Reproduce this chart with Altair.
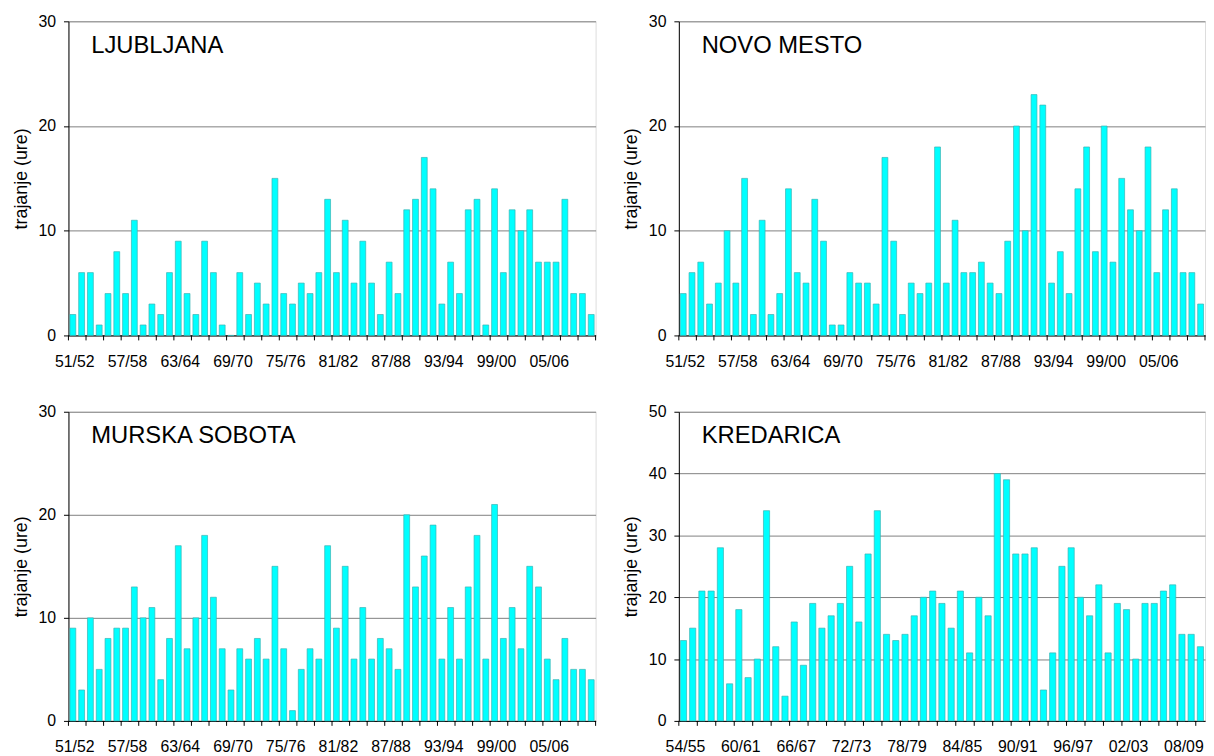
import altair as alt
import pandas as pd
import json

FONT = "Liberation Sans"

SEASONS = [
    "51/52", "52/53", "53/54", "54/55", "55/56", "56/57", "57/58", "58/59", "59/60", "60/61",
    "61/62", "62/63", "63/64", "64/65", "65/66", "66/67", "67/68", "68/69", "69/70", "70/71",
    "71/72", "72/73", "73/74", "74/75", "75/76", "76/77", "77/78", "78/79", "79/80", "80/81",
    "81/82", "82/83", "83/84", "84/85", "85/86", "86/87", "87/88", "88/89", "89/90", "90/91",
    "91/92", "92/93", "93/94", "94/95", "95/96", "96/97", "97/98", "98/99", "99/00", "00/01",
    "01/02", "02/03", "03/04", "04/05", "05/06", "06/07", "07/08", "08/09", "09/10", "10/11",
]
SEASONS_KREDARICA = SEASONS[3:]

LJUBLJANA = [2, 6, 6, 1, 4, 8, 4, 11, 1, 3,
             2, 6, 9, 4, 2, 9, 6, 1, 0, 6,
             2, 5, 3, 15, 4, 3, 5, 4, 6, 13,
             6, 11, 5, 9, 5, 2, 7, 4, 12, 13,
             17, 14, 3, 7, 4, 12, 13, 1, 14, 6,
             12, 10, 12, 7, 7, 7, 13, 4, 4, 2]
NOVO_MESTO = [4, 6, 7, 3, 5, 10, 5, 15, 2, 11,
              2, 4, 14, 6, 5, 13, 9, 1, 1, 6,
              5, 5, 3, 17, 9, 2, 5, 4, 5, 18,
              5, 11, 6, 6, 7, 5, 4, 9, 20, 10,
              23, 22, 5, 8, 4, 14, 18, 8, 20, 7,
              15, 12, 10, 18, 6, 12, 14, 6, 6, 3]
MURSKA_SOBOTA = [9, 3, 10, 5, 8, 9, 9, 13, 10, 11,
                 4, 8, 17, 7, 10, 18, 12, 7, 3, 7,
                 6, 8, 6, 15, 7, 1, 5, 7, 6, 17,
                 9, 15, 6, 11, 6, 8, 7, 5, 20, 13,
                 16, 19, 6, 11, 6, 13, 18, 6, 21, 8,
                 11, 7, 15, 13, 6, 4, 8, 5, 5, 4]
KREDARICA = [13, 15, 21, 21, 28, 6, 18, 7, 10, 34,
             12, 4, 16, 9, 19, 15, 17, 19, 25, 16,
             27, 34, 14, 13, 14, 17, 20, 21, 19, 15,
             21, 11, 20, 17, 40, 39, 27, 27, 28, 5,
             11, 25, 28, 20, 17, 22, 11, 19, 18, 10,
             19, 19, 21, 22, 14, 14, 12]

Y_TITLE = "trajanje (ure)"


def panel(name, seasons, values, ymax, w, h):
    n = len(seasons)
    df = pd.DataFrame({"season": seasons, "value": values, "idx": list(range(n))})
    xscale = alt.Scale(domain=seasons, paddingInner=0, paddingOuter=0)
    label_expr = "indexof(" + json.dumps(seasons) + ", datum.value) % 6 === 0 ? datum.label : ''"
    xaxis = alt.Axis(
        title=None, labelAngle=0, labelFontSize=16, labelFont=FONT,
        labelColor="black", labelPadding=13, labelOffset=2, ticks=True, tickSize=5,
        tickOpacity=0, domainColor="black", domainWidth=1, grid=False,
        labelOverlap=False, labelExpr=label_expr,
    )
    yaxis = alt.Axis(
        values=list(range(0, ymax + 1, 10)), title=Y_TITLE, titleFont=FONT, titleFontSize=18,
        titleFontWeight="normal", titleColor="black", titlePadding=8, labelFont=FONT,
        labelFontSize=16, labelColor="black", labelPadding=8, tickSize=5, tickColor="black",
        domainColor="black", domainWidth=1, grid=True, gridColor="#808080", gridWidth=1,
    )
    base = alt.Chart(df)
    bars = base.mark_bar(
        width=alt.RelativeBandSize(0.667), color="#00FFFF", stroke="#38B4B4", strokeWidth=0.7
    ).encode(
        x=alt.X("season:N", scale=xscale, axis=xaxis),
        y=alt.Y("value:Q", scale=alt.Scale(domain=[0, ymax], nice=False), axis=yaxis),
    )
    ticks = base.transform_filter("datum.idx % 2 == 0").mark_rule(
        color="black", strokeWidth=1
    ).encode(
        x=alt.X("season:N", scale=xscale, axis=xaxis, bandPosition=0),
        y=alt.value(h), y2=alt.value(h + 5),
    )
    layers = [bars, ticks]
    if n % 2 == 0:
        end = base.transform_filter(f"datum.idx == {n - 1}").mark_rule(
            color="black", strokeWidth=1
        ).encode(
            x=alt.X("season:N", scale=xscale, axis=xaxis, bandPosition=1),
            y=alt.value(h), y2=alt.value(h + 5),
        )
        layers.append(end)
    label = alt.Chart(pd.DataFrame({"name": [name]})).mark_text(
        align="left", baseline="alphabetic", fontSize=24, font=FONT, color="black"
    ).encode(text="name:N", x=alt.value(23), y=alt.value(32))
    layers.append(label)
    return alt.layer(*layers).properties(width=w, height=h)


top = alt.hconcat(
    panel("LJUBLJANA", SEASONS, LJUBLJANA, 30, 532, 317),
    panel("NOVO MESTO", SEASONS, NOVO_MESTO, 30, 531, 317),
    spacing=25,
)
bottom = alt.hconcat(
    panel("MURSKA SOBOTA", SEASONS, MURSKA_SOBOTA, 30, 532, 312),
    panel("KREDARICA", SEASONS_KREDARICA, KREDARICA, 50, 531, 312),
    spacing=25,
)

chart = alt.vconcat(top, bottom, spacing=33).properties(
    padding={"left": 3, "top": 1, "right": 0, "bottom": 0}
).configure_view(stroke="#808080", strokeWidth=1).configure(background="white")

chart.save("out.html", embed_options={"renderer": "svg", "actions": False})
